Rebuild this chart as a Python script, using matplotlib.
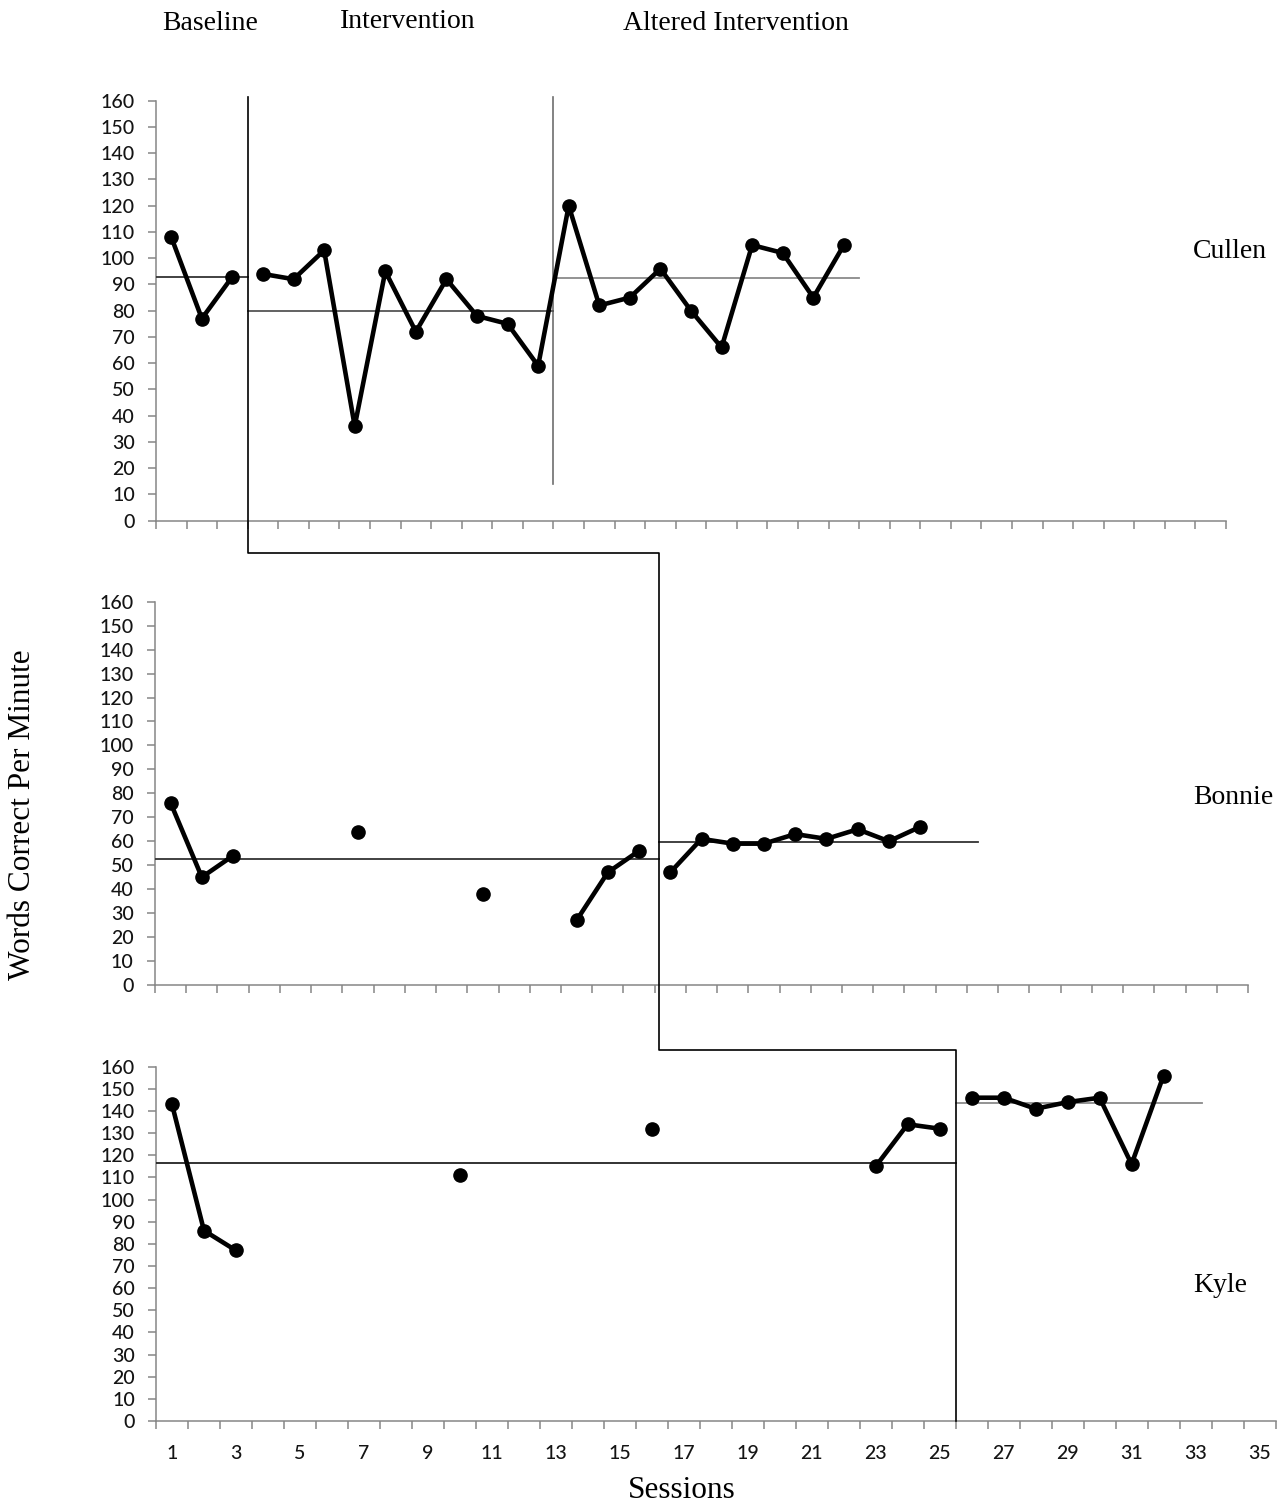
import numpy as np
import pandas as pd
import matplotlib
matplotlib.use("Agg")
import matplotlib.pyplot as plt
from matplotlib.lines import Line2D

# ---------------- data ----------------
cullen_sessions = list(range(1, 24))
cullen_wcpm = [108, 77, 93,
               94, 92, 103, 36, 95, 72, 92, 78, 75, 59,
               120, 82, 85, 96, 80, 66, 105, 102, 85, 105]
cullen_phase_changes = [3.5, 13.5]
cullen_means = [92.7, 79.7, 92.6]

bonnie_sessions = [1, 2, 3, 7, 11, 14, 15, 16,
                   17, 18, 19, 20, 21, 22, 23, 24, 25]
bonnie_wcpm = [76, 45, 54, 64, 38, 27, 47, 56,
               47, 61, 59, 59, 63, 61, 65, 60, 66]
bonnie_phase_changes = [16.65]
bonnie_means = [52.6, 59.9]

kyle_sessions = [1, 2, 3, 10, 16, 23, 24, 25,
                 26, 27, 28, 29, 30, 31, 32]
kyle_wcpm = [143, 86, 77, 111, 132, 115, 134, 132,
             146, 146, 141, 144, 146, 116, 156]
kyle_phase_changes = [25.5]
kyle_means = [116.5, 143.8]

phase_labels = ["Baseline", "Intervention", "Altered Intervention"]
student_names = ["Cullen", "Bonnie", "Kyle"]
y_ticks = list(range(0, 161, 10))
x_tick_labels = [str(s) for s in range(1, 36, 2)]
y_title = "Words Correct Per Minute"
x_title = "Sessions"

# ---------------- layout helpers ----------------
W, H = 1281, 1505
fig = plt.figure(figsize=(W / 100, H / 100), dpi=100)


def rect(l, r, t, b):
    return [l / W, 1 - b / H, (r - l) / W, (b - t) / H]


def fy(py):
    return 1 - py / H


def fx(px):
    return px / W


SERIF = "Liberation Serif"
TICKFONT = "Lato"
AXCOL = "#868686"
TICKSIZE = 14

ax1 = fig.add_axes(rect(156, 1226, 100.7, 520.7))
ax2 = fig.add_axes(rect(155, 1248, 601.7, 985))
ax3 = fig.add_axes(rect(156, 1275.5, 1066.7, 1421))
axes = [ax1, ax2, ax3]

for ax in axes:
    ax.set_xlim(0.5, 35.5)
    ax.set_ylim(0, 160)
    for s in ["top", "right"]:
        ax.spines[s].set_visible(False)
    for s in ["left", "bottom"]:
        ax.spines[s].set_color(AXCOL)
        ax.spines[s].set_linewidth(1.1)
    ax.set_yticks(y_ticks)
    ax.set_yticklabels([str(v) for v in y_ticks], fontfamily=TICKFONT,
                       fontsize=TICKSIZE, fontweight="medium", color="#141414")
    ax.set_xticks(np.arange(0.5, 35.6, 1.0))
    ax.set_xticklabels([])
    ax.tick_params(axis="both", which="major", direction="out", length=5.8,
                   width=1.1, color=AXCOL)
    ax.tick_params(axis="y", pad=9.5)
    ax.patch.set_alpha(0)

ax3.set_xticks(np.arange(1, 36, 2), minor=True)
ax3.set_xticklabels(x_tick_labels, minor=True, fontfamily=TICKFONT,
                    fontsize=TICKSIZE, fontweight="medium", color="#141414")
ax3.tick_params(axis="x", which="minor", length=0, pad=17)

LINE_KW = dict(color="black", lw=3.3, marker="o", markersize=9.5,
               solid_joinstyle="round", solid_capstyle="round", zorder=5,
               clip_on=False)


def plot_phases(ax, sessions, values, breaks):
    ser = pd.Series(values, index=sessions, dtype=float)
    edges = [0.5] + list(breaks) + [35.5]
    for lo, hi in zip(edges[:-1], edges[1:]):
        part = ser[(ser.index > lo) & (ser.index < hi)]
        if part.empty:
            continue
        full = part.reindex(range(int(part.index.min()), int(part.index.max()) + 1))
        ax.plot(full.index, full.values, **LINE_KW)


# Cullen: break only between baseline and intervention
plot_phases(ax1, cullen_sessions, cullen_wcpm, [cullen_phase_changes[0]])
plot_phases(ax2, bonnie_sessions, bonnie_wcpm, bonnie_phase_changes)
plot_phases(ax3, kyle_sessions, kyle_wcpm, kyle_phase_changes)

# mean (level) lines
cullen_mean_bounds = [0.5] + cullen_phase_changes + [23.5]
cullen_mean_colors = ["#333333", "#555555", "#8a8a8a"]
for i, m in enumerate(cullen_means):
    ax1.plot([cullen_mean_bounds[i], cullen_mean_bounds[i + 1]], [m, m],
             color=cullen_mean_colors[i], lw=1.3, zorder=3)

bonnie_mean_bounds = [0.5] + bonnie_phase_changes + [26.85]
for i, m in enumerate(bonnie_means):
    ax2.plot([bonnie_mean_bounds[i], bonnie_mean_bounds[i + 1]], [m, m],
             color="#333333", lw=1.3, zorder=3)

kyle_mean_bounds = [0.5] + kyle_phase_changes + [33.2]
kyle_mean_colors = ["#222222", "#8a8a8a"]
for i, m in enumerate(kyle_means):
    ax3.plot([kyle_mean_bounds[i], kyle_mean_bounds[i + 1]], [m, m],
             color=kyle_mean_colors[i], lw=1.3, zorder=3)

# second (altered) phase line for Cullen
ax1.plot([cullen_phase_changes[1]] * 2, [14, 161.5], color="#6e6e6e",
         lw=1.2, clip_on=False, zorder=2)

# staircase phase-change line across panels
fig.canvas.draw()
inv = fig.transFigure.inverted()


def xfig(ax, x):
    return inv.transform(ax.transData.transform((x, 0)))[0]


def yfig(ax, y):
    return inv.transform(ax.transData.transform((1, y)))[1]


x1 = xfig(ax1, cullen_phase_changes[0])
x2 = xfig(ax2, bonnie_phase_changes[0])
x3 = xfig(ax3, kyle_phase_changes[0])
xs = [x1, x1, x2, x2, x3, x3]
ys = [fy(97), fy(553), fy(553), fy(1050), fy(1050), yfig(ax3, 0)]
fig.add_artist(Line2D(xs, ys, transform=fig.transFigure, color="black",
                      lw=1.2, zorder=1))

# texts
fig.text(fx(210), fy(23), phase_labels[0], family=SERIF, fontsize=20,
         ha="center", va="center")
fig.text(fx(408), fy(21), phase_labels[1], family=SERIF, fontsize=20,
         ha="center", va="center")
fig.text(fx(736), fy(23), phase_labels[2], family=SERIF, fontsize=20,
         ha="center", va="center")

fig.text(fx(1193), fy(251), student_names[0], family=SERIF, fontsize=20,
         ha="left", va="center")
fig.text(fx(1193), fy(797), student_names[1], family=SERIF, fontsize=20,
         ha="left", va="center")
fig.text(fx(1193), fy(1285), student_names[2], family=SERIF, fontsize=20,
         ha="left", va="center")

fig.text(fx(23), fy(815), y_title, family=SERIF, fontsize=22.5,
         ha="center", va="center", rotation=90)
fig.text(fx(682), fy(1490), x_title, family=SERIF, fontsize=22.5,
         ha="center", va="center")

fig.savefig("out.png", dpi=100, facecolor="white")
